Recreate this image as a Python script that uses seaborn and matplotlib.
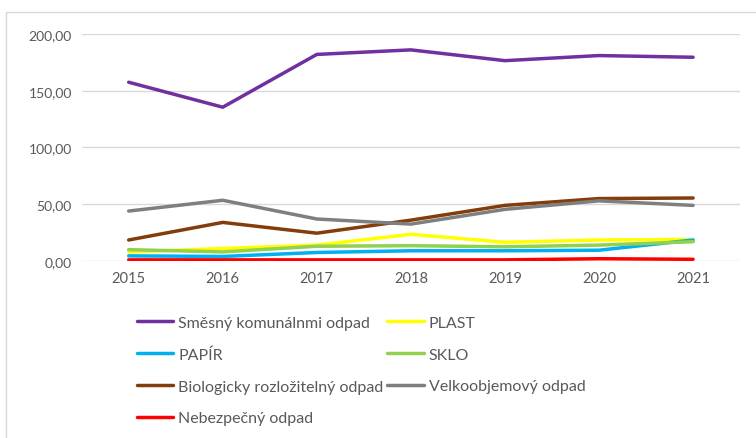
import matplotlib
matplotlib.use('Agg')
import matplotlib.pyplot as plt
import seaborn as sns
import pandas as pd
from matplotlib.patches import Rectangle

# Roky a hodnoty jednotlivých druhů odpadu
roky = [2015, 2016, 2017, 2018, 2019, 2020, 2021]
smesny = [157.5, 135.5, 182.0, 186.0, 176.5, 181.0, 179.5]
plast = [8.0, 11.0, 14.0, 23.5, 16.5, 18.5, 19.0]
papir = [4.5, 4.0, 7.5, 9.0, 9.0, 9.5, 18.5]
sklo = [10.0, 8.0, 13.0, 13.5, 12.5, 14.0, 17.0]
bio = [18.5, 34.0, 24.5, 36.0, 49.0, 55.0, 55.5]
velko = [44.0, 53.5, 37.0, 32.5, 45.5, 53.0, 49.0]
nebezpecny = [1.0, 1.0, 1.0, 1.0, 1.0, 2.0, 1.5]

nazvy = ["Směsný komunálnmi odpad", "PLAST", "PAPÍR", "SKLO",
         "Biologicky rozložitelný odpad", "Velkoobjemový odpad", "Nebezpečný odpad"]
barvy = ["#7030A0", "#FFFF00", "#00B0F0", "#92D050", "#843C0C", "#7F7F7F", "#FF0000"]

serie = [smesny, plast, papir, sklo, bio, velko, nebezpecny]
df = pd.concat([pd.DataFrame({"Rok": roky, "Hodnota": s, "Druh": n})
                for s, n in zip(serie, nazvy)], ignore_index=True)

sns.set_theme(style="white")
plt.rcParams['font.family'] = ['Lato', 'DejaVu Sans']

fig = plt.figure(figsize=(7.56, 4.39), dpi=100)
ax = fig.add_axes([0.108, 0.4032, 0.871, 0.5171])

sns.lineplot(data=df, x="Rok", y="Hodnota", hue="Druh", palette=barvy,
             hue_order=nazvy, linewidth=2.5, ax=ax, legend=False)

ax.set_xlim(2014.5, 2021.5)
ax.set_ylim(0, 200)
ax.set_xticks(roky)
ax.set_yticks([0, 50, 100, 150, 200])
ax.set_yticklabels(["0,00", "50,00", "100,00", "150,00", "200,00"])
ax.set_xlabel("")
ax.set_ylabel("")
ax.tick_params(axis='both', colors="#595959", labelsize=10.5, length=0, pad=7)
ax.tick_params(axis='y', labelsize=10)
ax.yaxis.grid(True, color="#d9d9d9", linewidth=1)
ax.set_axisbelow(True)
for s in ax.spines.values():
    s.set_visible(False)

# Legenda po řádcích (dva sloupce)
poradi = [0, 2, 4, 6, 1, 3, 5]
handles = [plt.Line2D([], [], color=barvy[i], linewidth=2.5) for i in poradi]
labels = [nazvy[i] for i in poradi]
fig.legend(handles, labels, ncol=2, loc="upper left",
           bbox_to_anchor=(0.170, 0.297), frameon=False, fontsize=11.5,
           labelcolor="#595959", handlelength=2.3, handletextpad=0.3,
           columnspacing=0.25, labelspacing=1.1, borderpad=0)

# Rámeček grafu
fig.patches.append(Rectangle((6 / 756, -0.1), 1.2, 1 - 13 / 439 + 0.1,
                             transform=fig.transFigure, fill=False,
                             edgecolor="#d9d9d9", linewidth=1))

plt.savefig("out.png", dpi=100)
plt.close()
